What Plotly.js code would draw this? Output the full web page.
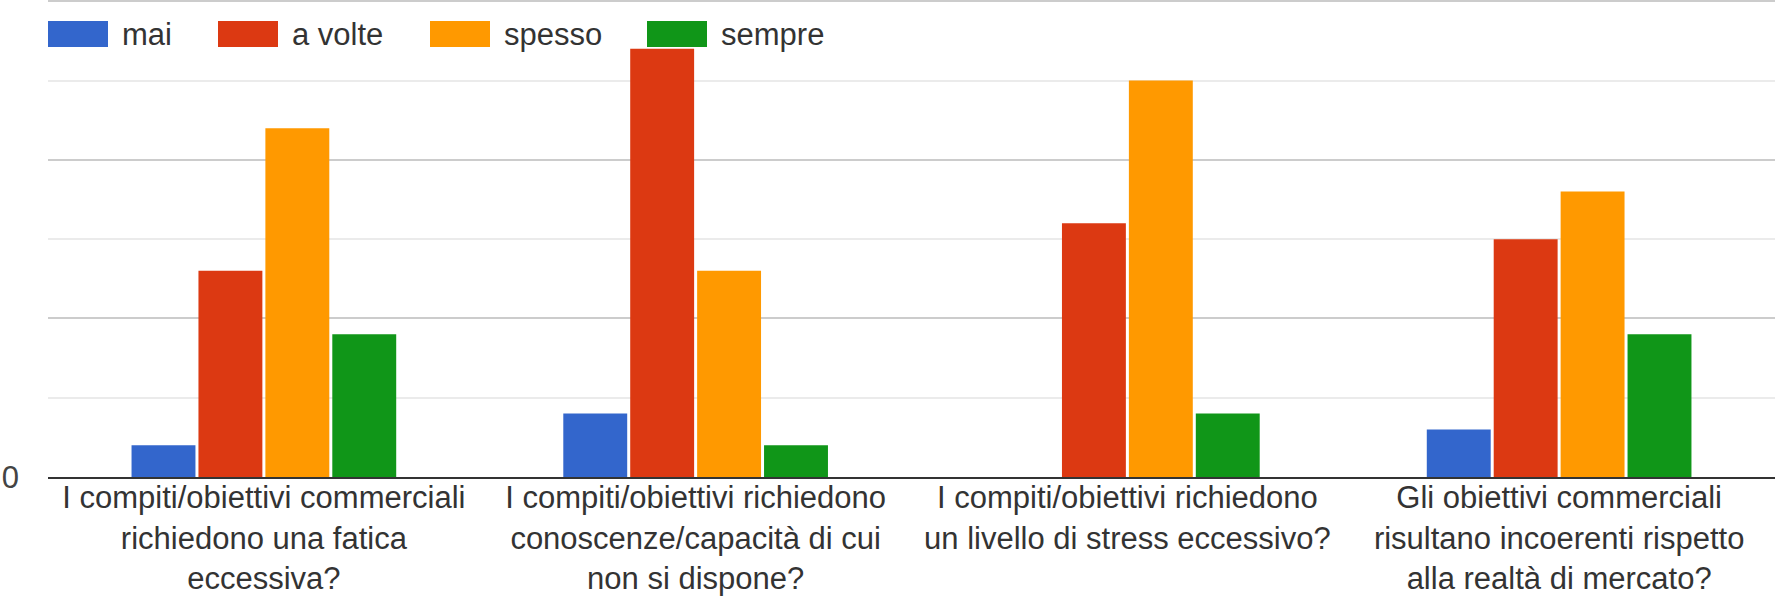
<!DOCTYPE html>
<html>
<head>
<meta charset="utf-8">
<script src="https://cdn.plot.ly/plotly-3.0.1.min.js"></script>
<style>
html,body{margin:0;padding:0;background:#fff;}
#chart{width:1775px;height:596px;}
</style>
</head>
<body>
<div id="chart"></div>
<script>
const categories = [
  "I compiti/obiettivi commerciali<br>richiedono una fatica<br>eccessiva?",
  "I compiti/obiettivi richiedono<br>conoscenze/capacità di cui<br>non si dispone?",
  "I compiti/obiettivi richiedono<br>un livello di stress eccessivo?",
  "Gli obiettivi commerciali<br>risultano incoerenti rispetto<br>alla realtà di mercato?"
];
const seriesNames = ["mai", "a volte", "spesso", "sempre"];
const mai = [2, 4, 0, 3];
const aVolte = [13, 27, 16, 15];
const spesso = [22, 13, 25, 18];
const sempre = [9, 2, 4, 9];
const seriesValues = [mai, aVolte, spesso, sempre];
const colors = ["#3366cc", "#dc3912", "#ff9900", "#109618"];
const yTickVals = [0, 10, 20, 30];
const yTickText = ["0", "", "", ""];
const yMinorVals = [5, 15, 25];

const FONT = "Arial, 'Liberation Sans', sans-serif";
const FS = 31;
const W = 1775, H = 596;
const mL = 48, mR = 0, mT = 0, mB = 119;
const plotW = W - mL - mR, plotH = H - mT - mB;
const yMax = 30.08;

const traces = seriesNames.map((n, i) => ({
  type: "bar",
  name: n,
  x: categories,
  y: seriesValues[i],
  marker: {color: colors[i], line: {width: 0}},
  hoverinfo: "x+y+name"
}));

// custom legend (large swatches like the original)
const legendPx = [48, 218, 430, 647];   // left edge of each swatch, px
const swW = 60, swTop = 21, swBot = 47;
const toPX = px => (px - mL) / plotW;
const toPY = py => (H - mB - py) / plotH;
const shapes = [], annotations = [];
seriesNames.forEach((n, i) => {
  shapes.push({
    type: "rect", xref: "paper", yref: "paper", layer: "above",
    x0: toPX(legendPx[i]), x1: toPX(legendPx[i] + swW),
    y0: toPY(swBot), y1: toPY(swTop),
    fillcolor: colors[i], line: {width: 0}
  });
  annotations.push({
    xref: "paper", yref: "paper", showarrow: false,
    x: toPX(legendPx[i] + swW + 12), y: toPY((swTop + swBot) / 2),
    xanchor: "left", yanchor: "middle",
    text: n, font: {family: FONT, size: FS, color: "#333333"}
  });
});

const layout = {
  width: W, height: H,
  margin: {l: mL, r: mR, t: mT, b: mB, pad: 0},
  paper_bgcolor: "#ffffff", plot_bgcolor: "#ffffff",
  showlegend: false,
  barmode: "group",
  bargap: 0.38,
  bargroupgap: 0.045,
  font: {family: FONT, size: FS, color: "#333333"},
  xaxis: {
    type: "category",
    showgrid: false,
    showline: true, linecolor: "#333333", linewidth: 2,
    ticks: "", tickfont: {family: FONT, size: FS, color: "#333333"},
    ticklabelstandoff: -8,
    fixedrange: true
  },
  yaxis: {
    range: [0, yMax],
    tickmode: "array", tickvals: yTickVals, ticktext: yTickText,
    showgrid: true, gridcolor: "#cccccc", gridwidth: 2,
    zeroline: false, showline: false, ticks: "",
    tickfont: {family: FONT, size: FS, color: "#444444"},
    ticklabelstandoff: 28,
    minor: {tickmode: "array", tickvals: yMinorVals, showgrid: true, gridcolor: "#ebebeb", gridwidth: 2, ticks: ""},
    fixedrange: true
  },
  shapes: shapes,
  annotations: annotations
};

Plotly.newPlot("chart", traces, layout, {displayModeBar: false, staticPlot: true});
</script>
</body>
</html>
